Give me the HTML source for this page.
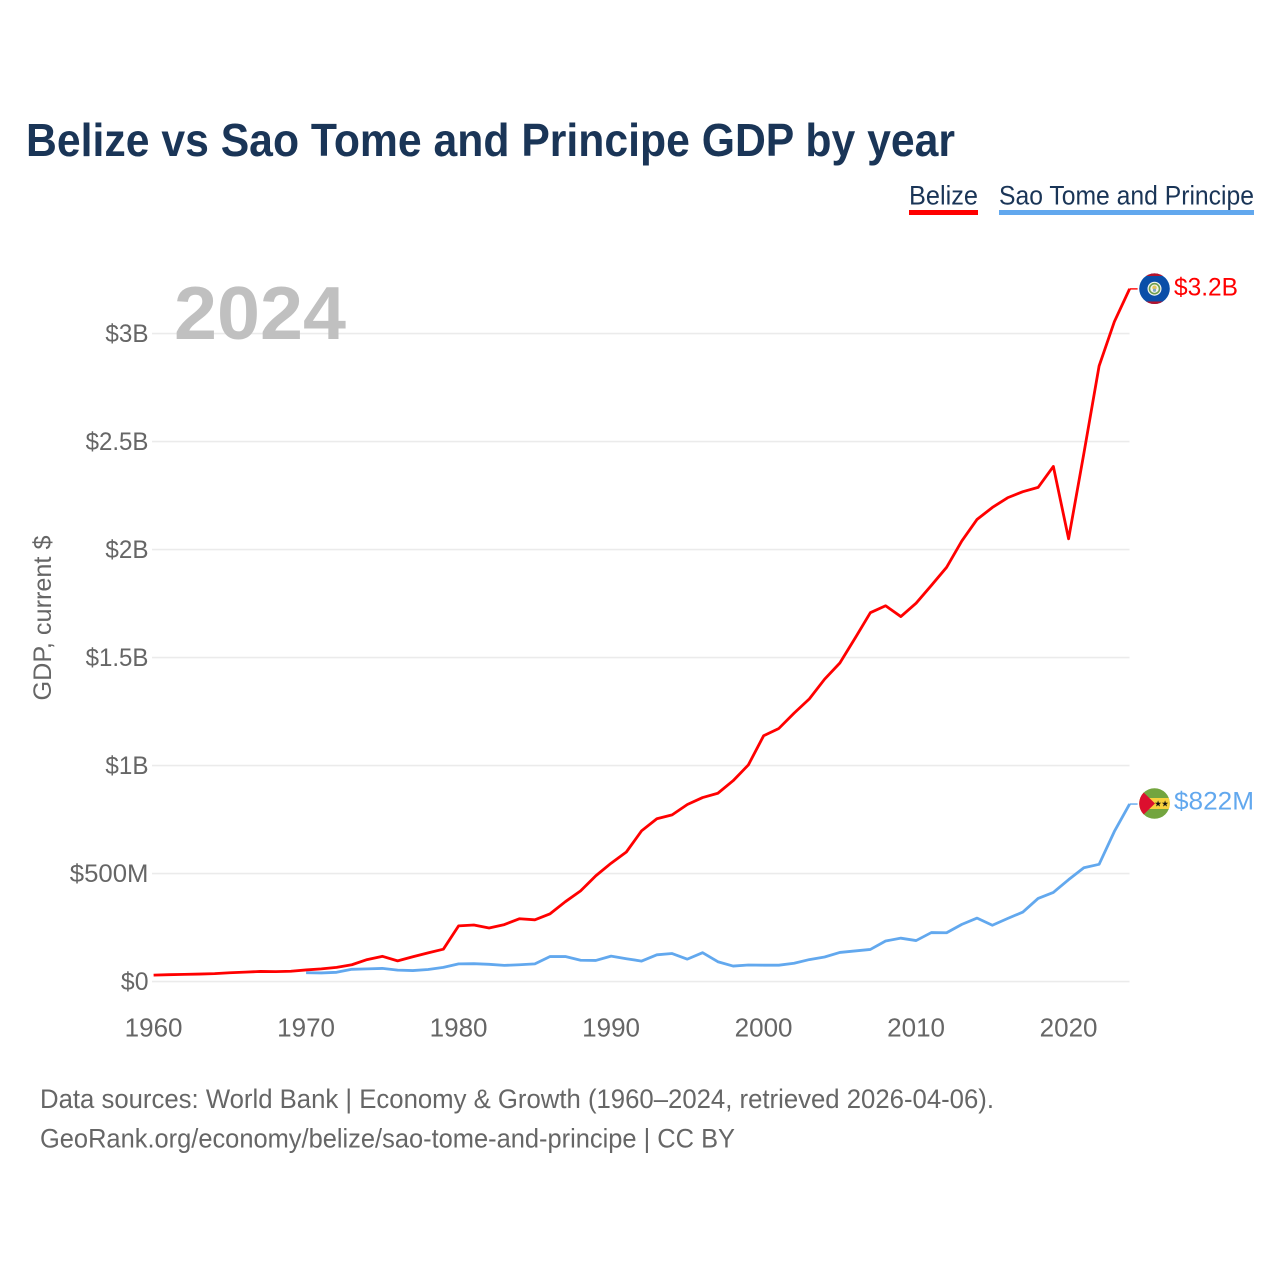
<!DOCTYPE html>
<html lang="en">
<head>
<meta charset="utf-8">
<title>Belize vs Sao Tome and Principe GDP by year</title>
<style>
html,body{margin:0;padding:0;background:#fff;}
svg{display:block;font-family:"Liberation Sans",sans-serif;}
</style>
</head>
<body>
<svg id="chart" xmlns="http://www.w3.org/2000/svg" width="1280" height="1280" viewBox="0 0 1280 1280">
  <rect width="1280" height="1280" fill="#fff"/>
  <text x="26" y="156" font-size="46" font-weight="700" fill="#1a3557" textLength="929" lengthAdjust="spacingAndGlyphs">Belize vs Sao Tome and Principe GDP by year</text>

  <g>
    <text x="909" y="204.5" font-size="27" fill="#1a3557" textLength="69" lengthAdjust="spacingAndGlyphs">Belize</text>
    <rect x="909" y="210" width="69" height="5" fill="#ff0000"/>
  </g>
  <g>
    <text x="999" y="204.5" font-size="27" fill="#1a3557" textLength="255" lengthAdjust="spacingAndGlyphs">Sao Tome and Principe</text>
    <rect x="999" y="210" width="255" height="5" fill="#62a8ee"/>
  </g>

  <g id="grid"></g>
  <g id="yticks"></g>
  <g id="xticks"></g>

  <text transform="translate(51,618) rotate(-90)" text-anchor="middle" font-size="25" fill="#666" textLength="165" lengthAdjust="spacingAndGlyphs">GDP, current $</text>
  <text x="174" y="339" font-size="75" font-weight="700" fill="#c0c0c0" textLength="172" lengthAdjust="spacingAndGlyphs">2024</text>

  <g id="series"></g>

  <g id="flag-belize">
    <clipPath id="clip-bz"><circle cx="1154.5" cy="288.7" r="15.3"/></clipPath>
    <g clip-path="url(#clip-bz)">
      <rect x="1139" y="273" width="31" height="32" fill="#0a4ea8"/>
      <rect x="1139" y="273" width="31" height="3" fill="#b5122b"/>
      <rect x="1139" y="301.5" width="31" height="3" fill="#b5122b"/>
    </g>
    <circle cx="1154.5" cy="288.7" r="7" fill="#f2f5ee"/>
    <circle cx="1154.5" cy="288.7" r="5" fill="none" stroke="#6f9e4f" stroke-width="1.6"/>
    <circle cx="1154.5" cy="287.7" r="2.2" fill="#e3c65a"/>
    <circle cx="1154.5" cy="290.2" r="1.6" fill="#7fa8c8"/>
  </g>
  <g id="flag-sao-tome">
    <clipPath id="clip-st"><circle cx="1154.5" cy="803.5" r="15.3"/></clipPath>
    <g clip-path="url(#clip-st)">
      <rect x="1139" y="788" width="31" height="31" fill="#73a53f"/>
      <rect x="1139" y="798" width="31" height="11" fill="#f7d13d"/>
      <polygon points="1139,788 1155,803.5 1139,819" fill="#dc0f2e"/>
    </g>
    <text x="1158" y="806.5" font-size="8.5" fill="#111" text-anchor="middle" font-family="DejaVu Sans, sans-serif">★</text>
    <text x="1165" y="806.5" font-size="8.5" fill="#111" text-anchor="middle" font-family="DejaVu Sans, sans-serif">★</text>
  </g>

  <text x="1174" y="295.5" font-size="25" fill="#ff0000" textLength="64" lengthAdjust="spacingAndGlyphs">$3.2B</text>
  <text x="1174" y="809.5" font-size="25" fill="#62a8ee" textLength="80" lengthAdjust="spacingAndGlyphs">$822M</text>

  <text x="40" y="1108" font-size="27" fill="#666" textLength="954" lengthAdjust="spacingAndGlyphs">Data sources: World Bank | Economy &amp; Growth (1960–2024, retrieved 2026-04-06).</text>
  <text x="40" y="1147.5" font-size="27" fill="#666" textLength="695" lengthAdjust="spacingAndGlyphs">GeoRank.org/economy/belize/sao-tome-and-principe | CC BY</text>
</svg>

<script>
const belizeStartYear = 1960;
const belizeValues = [30,32,33.5,35,37,41,44,47,46,48,54,59,66,78,102,117,96,115,133,150,258,262,248,264,291,286,314,370,420,490,548,600,698,754,772,820,852,872,930,1003,1138,1172,1243,1309,1400,1475,1590,1708,1740,1690,1752,1834,1918,2040,2140,2195,2240,2268,2288,2385,2050,2445,2850,3055,3207];
const saoTomeStartYear = 1970;
const saoTomeValues = [41,40,43,57,59,61,53,51,56,66,82,83,80,75,78,82,116,116,99,98,118,106,95,124,130,104,134,92,72,77,76,76,85,102,114,135,142,149,188,201,190,227,226,265,294,261,292,322,385,413,472,527,543,695,822];
const yTickValues = [0,500,1000,1500,2000,2500,3000];
const yTickLabels = ["$0","$500M","$1B","$1.5B","$2B","$2.5B","$3B"];
const xTickYears = [1960,1970,1980,1990,2000,2010,2020];

const NS = "http://www.w3.org/2000/svg";
function xScale(year){ return 153.6 + (year - 1960) * 15.25; }
function yScale(v){ return 981.6 - v * 0.216; }
function make(tag, attrs, parent){
  const el = document.createElementNS(NS, tag);
  for (const k in attrs) el.setAttribute(k, attrs[k]);
  parent.appendChild(el);
  return el;
}
function labelWidth(s){
  let w = 0;
  for (const c of s) w += c === '.' ? 6 : c === 'B' ? 15.5 : c === 'M' ? 23.5 : 13.8;
  return w;
}

const grid = document.getElementById('grid');
const yticks = document.getElementById('yticks');
const xticks = document.getElementById('xticks');
const seriesGroup = document.getElementById('series');

yTickValues.forEach(function(v, i){
  const line = make('line', {x1:152, x2:1129.5, y1:yScale(v), y2:yScale(v), stroke:'#ebebeb', 'stroke-width':1.6}, grid);
  
  
  const t = make('text', {x:148.5, y:yScale(v)+8.2, 'text-anchor':'end', 'font-size':25, fill:'#666', lengthAdjust:'spacingAndGlyphs', textLength:labelWidth(yTickLabels[i])}, yticks);
  t.textContent = yTickLabels[i];
  
  
});

xTickYears.forEach(function(y){
  const t = make('text', {x:xScale(y), y:1036.5, 'text-anchor':'middle', 'font-size':26, fill:'#666'}, xticks);
  t.textContent = String(y);
  
  
});

function drawSeries(values, startYear, color){
  const pts = values.map(function(v, i){ return xScale(startYear + i).toFixed(2) + ',' + yScale(v).toFixed(2); });
  const lastX = xScale(startYear + values.length - 1);
  const lastY = yScale(values[values.length - 1]);
  const connector = make('line', {x1:lastX, y1:lastY, x2:lastX + 8, y2:lastY, stroke:color, 'stroke-width':1.4}, seriesGroup);
  const path = make('polyline', {points:pts.join(' '), fill:'none', stroke:color, 'stroke-width':2.8, 'stroke-linejoin':'round'}, seriesGroup);
  return {path:path, connector:connector};
}

const belizeMarks = drawSeries(belizeValues, belizeStartYear, '#ff0000');





const saoTomeMarks = drawSeries(saoTomeValues, saoTomeStartYear, '#62a8ee');




</script>
</body>
</html>
